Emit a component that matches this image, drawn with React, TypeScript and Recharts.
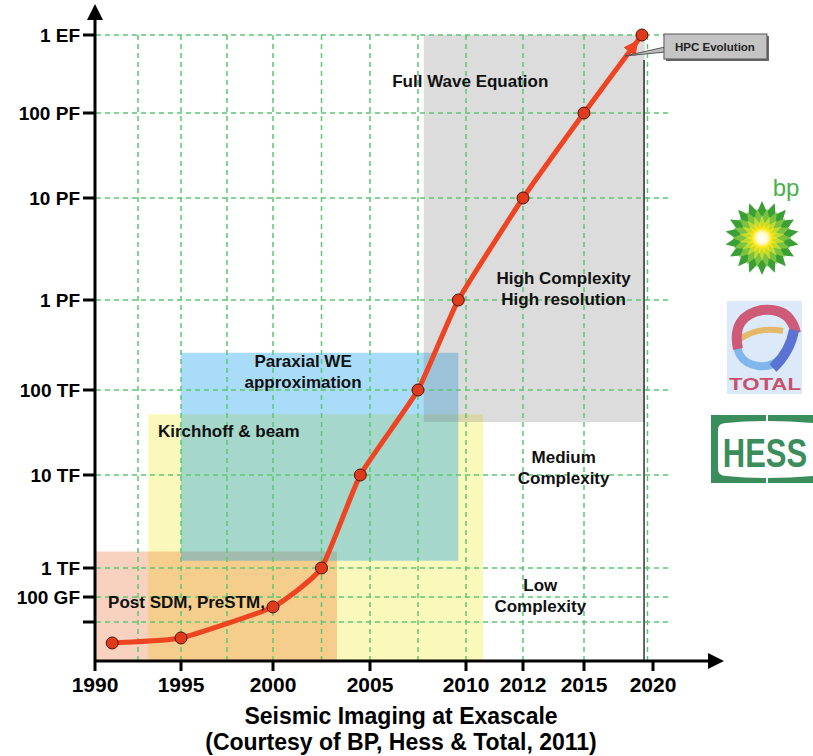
import React from 'react';
import {
  ComposedChart,
  Line,
  XAxis,
  YAxis,
  ReferenceArea,
  ReferenceLine,
  ReferenceDot,
} from 'recharts';

// ---- Axis definitions (piecewise axes: each tick gets its own stop along the axis) ----
const xTickYears = [1990, 1995, 2000, 2005, 2010, 2012, 2015, 2020];
const xTickStops = [0, 86, 178, 275, 371, 428, 489, 558];
const X_MAX = 625;

const yTickLogs = [10, 11, 12, 13, 14, 15, 16, 17, 18];
const yTickLabels = ['', '100 GF', '1 TF', '10 TF', '100 TF', '1 PF', '10 PF', '100 PF', '1 EF'];
const yTickStops = [39, 64, 93, 186, 271, 361, 463, 548, 626];
const Y_MAX = 653;

// ---- HPC evolution ----
const years = [1991, 1995, 2000, 2002.5, 2004.5, 2007.5, 2009.6, 2012, 2015, 2019.2];
const peakFlops = [1.45e9, 2.3e9, 4e10, 1e12, 1e13, 1e14, 1e15, 1e16, 1e17, 1e18];

// ---- Imaging workloads (year span, FLOPS span; null = down to the axis) ----
const workloadNames = ['Kirchhoff & beam', 'Post SDM, PreSTM', 'Paraxial WE', 'Full Wave Equation'];
const workloadFrom = [1993.1, 1990, 1995, 2007.8];
const workloadTo = [2010.6, 2003.3, 2009.6, 2019.4];
const workloadLow: (number | null)[] = [null, null, 1.2e12, 4.2e13];
const workloadHigh = [5.2e13, 1.5e12, 2.6e14, 1e18];
const workloadFills = ['#fbf8bb', '#e44c00', '#069aea', '#737373'];
const workloadOpacity = [1, 0.25, 0.35, 0.25];

// ---- Text annotations (year, FLOPS of the text block centre) ----
const noteLines = [
  ['Full Wave Equation'],
  ['High Complexity', 'High resolution'],
  ['Paraxial WE', 'approximation'],
  ['Kirchhoff & beam'],
  ['Medium', 'Complexity'],
  ['Low', 'Complexity'],
  ['Post SDM, PreSTM,'],
];
const noteYears = [2010.15, 2014, 2001.55, 1997.6, 2014, 2012.85, 1995.3];
const noteFlops = [2.6e17, 1.29e15, 1.6e14, 3.3e13, 1.23e13, 1.12e11, 6.3e10];

// ---- Grid ----
const gridYears = [1992.5, 1995, 1997.5, 2000, 2002.5, 2005, 2007.5, 2010, 2012, 2015, 2019.6];
const GRID_END_YEAR = 2021.1;
const MARKER_LINE_YEAR = 2019.35;
const MARKER_LINE_TOP = 10 ** 17.68;

const interp = (v: number, xs: number[], ys: number[]) => {
  let i = 0;
  if (v >= xs[xs.length - 1]) i = xs.length - 2;
  else while (i < xs.length - 2 && v > xs[i + 1]) i++;
  const t = (v - xs[i]) / (xs[i + 1] - xs[i]);
  return ys[i] + t * (ys[i + 1] - ys[i]);
};
const xPos = (year: number) => interp(year, xTickYears, xTickStops);
const yPos = (flops: number) => interp(Math.log10(flops), yTickLogs, yTickStops);

const series = years.map((y, i) => ({ u: xPos(y), v: yPos(peakFlops[i]) }));

// Cardinal spline with adjustable tension (d3-style curve factory)
const cardinalCurve = (tension: number) => {
  const k = (1 - tension) / 6;
  return (context: any) => {
    let pts: number[][] = [];
    return {
      areaStart() {},
      areaEnd() {},
      lineStart() {
        pts = [];
      },
      point(x: number, y: number) {
        pts.push([+x, +y]);
      },
      lineEnd() {
        if (!pts.length) return;
        context.moveTo(pts[0][0], pts[0][1]);
        for (let i = 0; i < pts.length - 1; i++) {
          const p0 = pts[Math.max(i - 1, 0)];
          const p1 = pts[i];
          const p2 = pts[i + 1];
          const p3 = pts[Math.min(i + 2, pts.length - 1)];
          context.bezierCurveTo(
            p1[0] + k * (p2[0] - p0[0]),
            p1[1] + k * (p2[1] - p0[1]),
            p2[0] - k * (p3[0] - p1[0]),
            p2[1] - k * (p3[1] - p1[1]),
            p2[0],
            p2[1]
          );
        }
      },
    };
  };
};

const SANS = "'Liberation Sans', Arial, Helvetica, sans-serif";
const GRID = '#5cc873';

const XTick = (p: any) => {
  const i = xTickStops.indexOf(p.payload.value);
  return (
    <text x={p.x} y={p.y + 19} textAnchor="middle" fontFamily={SANS} fontWeight="bold" fontSize={21} fill="#000">
      {xTickYears[i]}
    </text>
  );
};

const YTick = (p: any) => {
  const i = yTickStops.indexOf(p.payload.value);
  return (
    <text x={p.x - 1} y={p.y + 7} textAnchor="end" fontFamily={SANS} fontWeight="bold" fontSize={19} fill="#000">
      {yTickLabels[i]}
    </text>
  );
};

const noteShape = (lines: string[]) => (p: any) => {
  const lh = 20.5;
  const top = p.cy - ((lines.length - 1) * lh) / 2;
  return (
    <g>
      {lines.map((t, k) => (
        <text key={k} x={p.cx} y={top + k * lh + 6} textAnchor="middle" fontFamily={SANS} fontWeight="bold" fontSize={17} fill="#111">
          {t}
        </text>
      ))}
    </g>
  );
};

const Callout = (p: any) => (
  <g>
    <polygon points={`${p.cx + 23},${p.cy + 12} ${p.cx - 17},${p.cy + 21} ${p.cx + 23},${p.cy + 17}`} fill="#bdbdbd" stroke="#555" strokeWidth={1} />
    <rect x={p.cx + 24} y={p.cy + 1} width={103} height={25} fill="#666" />
    <rect x={p.cx + 22} y={p.cy - 1} width={103} height={25} fill="#c4c4c4" stroke="#555" strokeWidth={1} />
    <text x={p.cx + 73} y={p.cy + 16} textAnchor="middle" fontFamily={SANS} fontWeight="bold" fontSize={11.5} fill="#222">
      HPC Evolution
    </text>
  </g>
);

const ArrowRight = (p: any) => (
  <polygon points={`${p.cx + 4},${p.cy} ${p.cx - 12},${p.cy - 8} ${p.cx - 12},${p.cy + 8}`} fill="#000" />
);
const ArrowUp = (p: any) => (
  <polygon points={`${p.cx},${p.cy - 4} ${p.cx - 8},${p.cy + 12} ${p.cx + 8},${p.cy + 12}`} fill="#000" />
);

const starPoints = (cx: number, cy: number, n: number, ro: number, ri: number, rot: number) => {
  const pts: string[] = [];
  for (let k = 0; k < n * 2; k++) {
    const r = k % 2 === 0 ? ro : ri;
    const a = rot + (Math.PI * k) / n - Math.PI / 2;
    pts.push(`${(cx + r * Math.cos(a)).toFixed(1)},${(cy + r * Math.sin(a)).toFixed(1)}`);
  }
  return pts.join(' ');
};

const Logos = () => (
  <svg width={813} height={756} style={{ position: 'absolute', left: 0, top: 0, pointerEvents: 'none' }}>
    <defs>
      <marker id="hpcArrow" markerUnits="userSpaceOnUse" markerWidth={26} markerHeight={20} viewBox="0 0 26 20" refX={21} refY={10} orient="auto">
        <path d="M0,2.5 L15,10 L0,17.5 z" fill="#ee4422" />
      </marker>
      <radialGradient id="bpCore">
        <stop offset="0" stopColor="#ffffff" />
        <stop offset="0.55" stopColor="#fffbd0" />
        <stop offset="1" stopColor="#ffe600" />
      </radialGradient>
    </defs>

    {/* bp */}
    <text x={786} y={196} textAnchor="middle" fontFamily={SANS} fontSize={24} fill="#4caf50">bp</text>
    <polygon points={starPoints(762, 238, 18, 37, 27, 0)} fill="#3a9f35" />
    <polygon points={starPoints(762, 238, 18, 30, 21, Math.PI / 18)} fill="#7cc242" />
    <polygon points={starPoints(762, 238, 18, 23, 15, 0)} fill="#c3db2e" />
    <polygon points={starPoints(762, 238, 18, 16, 10, Math.PI / 18)} fill="#f2e41a" />
    <circle cx={762} cy={238} r={10} fill="url(#bpCore)" />

    {/* Total */}
    <rect x={727} y={301} width={75} height={93} fill="#dbe9f8" />
    <path d="M738,334 Q733,362 758,366 Q772,368 782,357" fill="none" stroke="#80b6ec" strokeWidth={8} />
    <path d="M739,340 Q757,326 783,331" fill="none" stroke="#e3b868" strokeWidth={6} />
    <path d="M738,349 Q731,316 762,310 Q790,307 796,333" fill="none" stroke="#cd5b78" strokeWidth={10} />
    <path d="M794,330 Q790,352 773,368" fill="none" stroke="#5b73d2" strokeWidth={10} />
    <text x={765} y={390} textAnchor="middle" fontFamily={SANS} fontWeight="bold" fontSize={17} fill="#c8506a" textLength={72} lengthAdjust="spacingAndGlyphs">
      TOTAL
    </text>

    {/* Hess */}
    <rect x={711} y={415} width={110} height={68} fill="#3b8d5c" />
    <path d="M718,430 Q718,423 726,423 Q766,419 813,423 L813,476 Q766,480 726,476 Q718,476 718,469 Z" fill="#fff" />
    <line x1={767} y1={415} x2={767} y2={422} stroke="#fff" strokeWidth={2} />
    <line x1={767} y1={477} x2={767} y2={483} stroke="#fff" strokeWidth={2} />
    <text x={0} y={0} transform="translate(765,467) scale(1,1.3)" textAnchor="middle" fontFamily={SANS} fontWeight={900} fontSize={31} fill="#3b8d5c">
      HESS
    </text>

    {/* caption */}
    <text x={401} y={724} textAnchor="middle" fontFamily={SANS} fontWeight="bold" fontSize={23} fill="#000">
      Seismic Imaging at Exascale
    </text>
    <text x={401} y={750} textAnchor="middle" fontFamily={SANS} fontWeight="bold" fontSize={23} fill="#000">
      (Courtesy of BP, Hess &amp; Total, 2011)
    </text>
  </svg>
);

export default function App() {
  const floorV = 0;
  return (
    <div style={{ position: 'absolute', left: 0, top: 0, width: 813, height: 756, background: '#fff' }}>
      <ComposedChart width={813} height={756} data={series} margin={{ top: 8, right: 93, bottom: 65, left: 0 }}>
        <XAxis
          dataKey="u"
          type="number"
          domain={[0, X_MAX]}
          ticks={xTickStops}
          interval={0}
          height={30}
          tickSize={10}
          tick={<XTick />}
          axisLine={{ stroke: '#000', strokeWidth: 3 }}
          tickLine={{ stroke: '#000', strokeWidth: 3 }}
          allowDataOverflow
        />
        <YAxis
          type="number"
          domain={[0, Y_MAX]}
          ticks={yTickStops}
          interval={0}
          width={95}
          tickSize={12}
          tick={<YTick />}
          axisLine={{ stroke: '#000', strokeWidth: 3 }}
          tickLine={{ stroke: '#000', strokeWidth: 3 }}
          allowDataOverflow
        />

        {workloadNames.map((name, i) => (
          <ReferenceArea
            key={name}
            x1={xPos(workloadFrom[i])}
            x2={xPos(workloadTo[i])}
            y1={workloadLow[i] === null ? floorV : yPos(workloadLow[i] as number)}
            y2={yPos(workloadHigh[i])}
            fill={workloadFills[i]}
            fillOpacity={workloadOpacity[i]}
            stroke="none"
            ifOverflow="visible"
          />
        ))}

        {yTickLogs.map((lg) => (
          <ReferenceLine
            key={'h' + lg}
            segment={[
              { x: 1, y: yPos(10 ** lg) },
              { x: xPos(GRID_END_YEAR), y: yPos(10 ** lg) },
            ]}
            stroke={GRID}
            strokeWidth={1.5}
            strokeDasharray="5 4"
            ifOverflow="visible"
          />
        ))}
        {gridYears.map((yr) => (
          <ReferenceLine
            key={'v' + yr}
            segment={[
              { x: xPos(yr), y: floorV },
              { x: xPos(yr), y: yPos(1e18) },
            ]}
            stroke={GRID}
            strokeWidth={1.5}
            strokeDasharray="5 4"
            ifOverflow="visible"
          />
        ))}
        <ReferenceLine
          segment={[
            { x: xPos(MARKER_LINE_YEAR), y: floorV },
            { x: xPos(MARKER_LINE_YEAR), y: yPos(MARKER_LINE_TOP) },
          ]}
          stroke="#000"
          strokeWidth={1.2}
          ifOverflow="visible"
        />

        {noteLines.map((lines, i) => (
          <ReferenceDot
            key={'n' + i}
            x={xPos(noteYears[i])}
            y={yPos(noteFlops[i])}
            r={0}
            shape={noteShape(lines)}
            ifOverflow="visible"
          />
        ))}

        <Line
          dataKey="v"
          type={cardinalCurve(0.55) as any}
          stroke="#ee4422"
          strokeWidth={5}
          markerEnd="url(#hpcArrow)"
          dot={{ r: 6, fill: '#df3a1b', stroke: '#4a1408', strokeWidth: 1 }}
          isAnimationActive={false}
        />

        <ReferenceDot
          x={series[series.length - 1].u}
          y={series[series.length - 1].v}
          r={0}
          shape={Callout}
          ifOverflow="visible"
        />
        <ReferenceDot x={X_MAX} y={0} r={0} shape={ArrowRight} ifOverflow="visible" />
        <ReferenceDot x={0} y={Y_MAX} r={0} shape={ArrowUp} ifOverflow="visible" />
      </ComposedChart>
      <Logos />
    </div>
  );
}
